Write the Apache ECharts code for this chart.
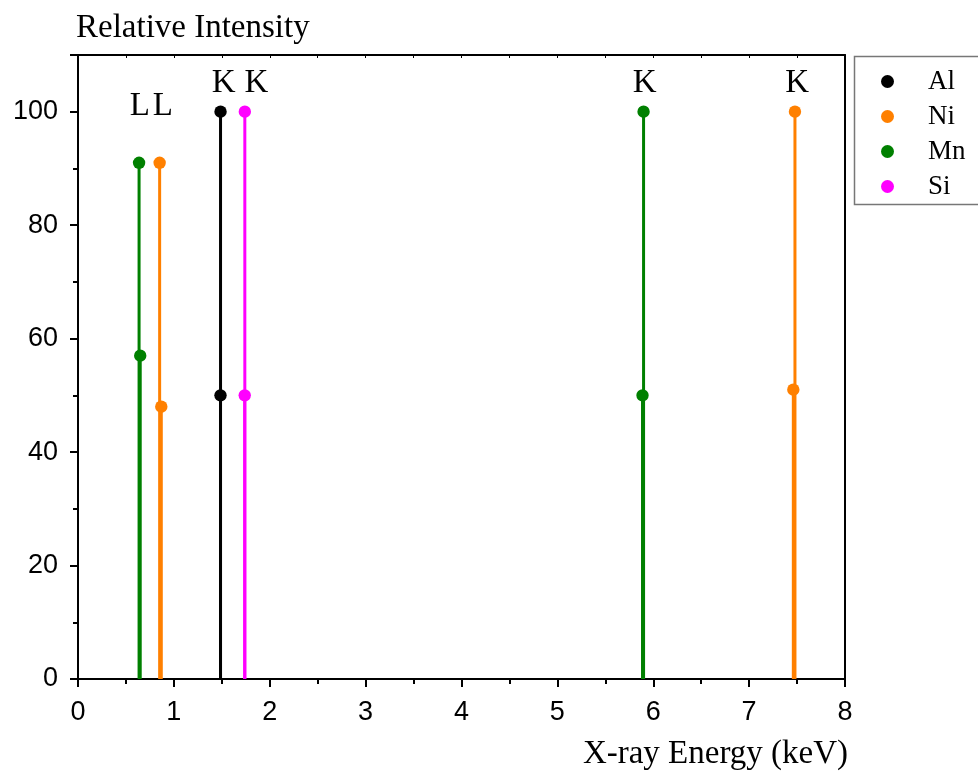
<!DOCTYPE html>
<html>
<head>
<meta charset="utf-8">
<script src="https://cdn.jsdelivr.net/npm/echarts@6/dist/echarts.min.js"></script>
<style>
  html, body { margin: 0; padding: 0; background: #fff; }
  #chart { width: 978px; height: 771px; }
</style>
</head>
<body>
<div id="chart"></div>
<script>
// peak lines: [energy keV, relative intensity]
const alLines = [[1.4863, 50], [1.4867, 100]];
const niLines = [[0.8515, 91], [0.8688, 48], [7.461, 51], [7.478, 100]];
const mnLines = [[0.637, 91], [0.649, 57], [5.888, 50], [5.899, 100]];
const siLines = [[1.739, 50], [1.740, 100]];

// shell labels above the peaks
const peakLabels = ['L', 'L', 'K', 'K', 'K', 'K'];
const peakLabelX = [0.646, 0.886, 1.52, 1.86, 5.91, 7.50];
const peakLabelY = [101.0, 101.0, 105.0, 105.0, 105.0, 105.0];

const elementNames = ['Al', 'Ni', 'Mn', 'Si'];
const elementColors = ['#000000', '#ff8000', '#008000', '#ff00ff'];
const elementData = [alLines, niLines, mnLines, siLines];

const serif = 'Liberation Serif';
const sans = 'Liberation Sans';

const chart = echarts.init(document.getElementById('chart'));

// stem from 0 up to the value, with a dot on top
function renderStem(params, api) {
  const top = api.coord([api.value(0), api.value(1)]);
  const base = api.coord([api.value(0), 0]);
  const color = api.visual('color');
  return {
    type: 'group',
    children: [
      { type: 'line', shape: { x1: top[0], y1: top[1], x2: base[0], y2: base[1] },
        style: { stroke: color, lineWidth: 3 } },
      { type: 'circle', shape: { cx: top[0], cy: top[1], r: 6.2 }, style: { fill: color } }
    ]
  };
}

const stemSeries = elementNames.map((name, i) => ({
  name: name,
  type: 'custom',
  renderItem: renderStem,
  itemStyle: { color: elementColors[i] },
  encode: { x: 0, y: 1 },
  data: elementData[i]
}));

const option = {
  animation: false,
  backgroundColor: '#fff',
  grid: { left: 78, top: 55, right: 133, bottom: 92, containLabel: false },
  legend: {
    data: elementNames.map(n => ({ name: n, icon: 'circle' })),
    orient: 'vertical',
    left: 876,
    top: 63,
    padding: 5,
    itemWidth: 13,
    itemHeight: 13,
    itemGap: 8,
    selectedMode: false,
    textStyle: { fontFamily: serif, fontSize: 27, color: '#000', padding: [0, 0, 0, 29] }
  },
  graphic: [{
    type: 'rect',
    left: 852, top: 54,
    shape: { width: 150, height: 148 },
    style: { fill: 'none', stroke: '#777', lineWidth: 1.5 }
  }],
  xAxis: [{
    type: 'value',
    min: 0, max: 8, interval: 1,
    position: 'bottom',
    name: 'X-ray Energy (keV)',
    nameLocation: 'end',
    nameGap: 3,
    nameTextStyle: { fontFamily: serif, fontSize: 33, color: '#000', align: 'right', verticalAlign: 'top', padding: [59, 0, 0, 0] },
    axisLine: { onZero: false, lineStyle: { color: '#000', width: 2 } },
    axisTick: { length: 8, lineStyle: { color: '#000', width: 2 } },
    minorTick: { show: true, splitNumber: 2, length: 5, lineStyle: { color: '#000', width: 2 } },
    splitLine: { show: false },
    axisLabel: { fontFamily: sans, fontSize: 27, color: '#000', margin: 20 }
  }, {
    type: 'value',
    min: 0, max: 8, interval: 0.5,
    position: 'top',
    axisLine: { onZero: false, lineStyle: { color: '#000', width: 2 } },
    axisTick: { inside: true, length: 3, lineStyle: { color: '#000', width: 1 } },
    splitLine: { show: false },
    axisLabel: { show: false }
  }],
  yAxis: [{
    type: 'value',
    min: 0, max: 110, interval: 20,
    position: 'left',
    name: 'Relative Intensity',
    nameLocation: 'end',
    nameGap: 10,
    nameTextStyle: { fontFamily: serif, fontSize: 33, color: '#000', align: 'left', verticalAlign: 'bottom', padding: [0, 0, 0, -2] },
    axisLine: { onZero: false, lineStyle: { color: '#000', width: 2 } },
    axisTick: { length: 8, lineStyle: { color: '#000', width: 2 } },
    minorTick: { show: true, splitNumber: 2, length: 5, lineStyle: { color: '#000', width: 2 } },
    splitLine: { show: false },
    axisLabel: { fontFamily: sans, fontSize: 27, color: '#000', margin: 20, showMaxLabel: false }
  }, {
    type: 'value',
    min: 0, max: 110,
    position: 'right',
    axisLine: { show: true, onZero: false, lineStyle: { color: '#000', width: 2 } },
    axisTick: { show: false },
    splitLine: { show: false },
    axisLabel: { show: false }
  }],
  series: stemSeries.concat([{
    name: 'labels',
    type: 'scatter',
    symbolSize: 0,
    silent: true,
    itemStyle: { opacity: 1 },
    data: peakLabelX.map((x, i) => ({ name: peakLabels[i], value: [x, peakLabelY[i]] })),
    label: {
      show: true, position: 'inside', formatter: '{b}', opacity: 1,
      fontFamily: serif, fontSize: 33, color: '#000', textBorderWidth: 0
    }
  }])
};

chart.setOption(option);
</script>
</body>
</html>
